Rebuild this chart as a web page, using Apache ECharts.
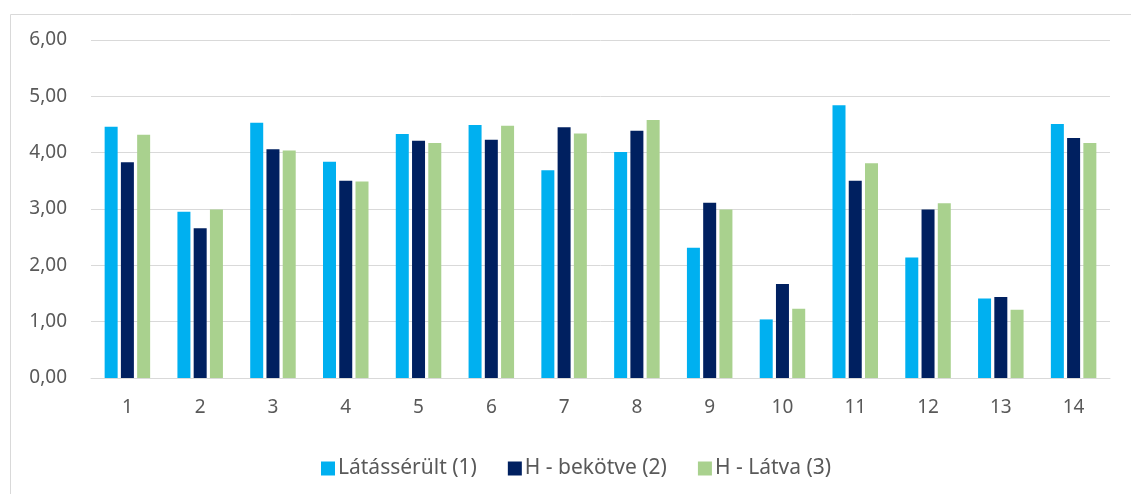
<!DOCTYPE html>
<html>
<head>
<meta charset="utf-8">
<script src="https://cdn.jsdelivr.net/npm/echarts@6/dist/echarts.min.js"></script>
<style>
  html, body { margin: 0; padding: 0; background: #fff; }
  #chart { width: 1131px; height: 494px; }
</style>
</head>
<body>
<div id="chart"></div>
<script>
// categories 1..14
const categories = ['1', '2', '3', '4', '5', '6', '7', '8', '9', '10', '11', '12', '13', '14'];

const seriesNames = ['Látássérült (1)', 'H - bekötve (2)', 'H - Látva (3)'];

// values
const latasserult = [4.46, 2.95, 4.53, 3.84, 4.33, 4.49, 3.69, 4.01, 2.31, 1.04, 4.84, 2.14, 1.41, 4.51];
const hBekotve    = [3.83, 2.66, 4.06, 3.50, 4.21, 4.23, 4.45, 4.39, 3.11, 1.67, 3.50, 2.99, 1.44, 4.26];
const hLatva      = [4.32, 2.99, 4.04, 3.49, 4.17, 4.48, 4.34, 4.58, 2.99, 1.23, 3.81, 3.10, 1.21, 4.17];

const yTicks = [0, 1, 2, 3, 4, 5, 6];

const colors = ['#00B0F0', '#002060', '#A9D18E'];
const fontFamily = '"Noto Sans", sans-serif';
const textColor = '#595959';

const chartDom = document.getElementById('chart');
const myChart = echarts.init(chartDom, null, { renderer: 'canvas' });

const allData = [latasserult, hBekotve, hLatva];

let option = {
  animation: false,
  color: colors,
  graphic: [
    {
      type: 'rect',
      left: 8,
      top: 12,
      shape: { width: 1200, height: 600 },
      style: { fill: 'none', stroke: '#D9D9D9', lineWidth: 1 },
      silent: true
    }
  ],
  grid: {
    left: 91,
    right: 21,
    top: 40,
    bottom: 116,
  },
  legend: {
    data: seriesNames,
    left: 316,
    top: 453,
    icon: 'rect',
    itemWidth: 14,
    itemHeight: 14,
    itemGap: 31,
    textStyle: {
      fontFamily: fontFamily,
      fontSize: 21,
      color: textColor,
      padding: [0, 0, 0, -2]
    }
  },
  xAxis: {
    type: 'category',
    data: categories,
    axisTick: { show: false },
    axisLine: { lineStyle: { color: '#D9D9D9', width: 1 } },
    axisLabel: {
      fontFamily: fontFamily,
      fontSize: 19,
      color: textColor,
      margin: 20
    }
  },
  yAxis: {
    type: 'value',
    min: yTicks[0],
    max: yTicks[yTicks.length - 1],
    interval: 1,
    axisLine: { show: false },
    axisTick: { show: false },
    splitLine: { lineStyle: { color: '#D9D9D9', width: 1 } },
    axisLabel: {
      fontFamily: fontFamily,
      fontSize: 19,
      color: textColor,
      margin: 24,
      formatter: v => v.toFixed(2).replace('.', ',')
    }
  },
  series: []
};

for (let i = 0; i < seriesNames.length; i++) {
  option.series[i] = {
    name: seriesNames[i],
    type: 'bar',
    data: allData[i],
    barWidth: 13,
    barGap: '25%',
    itemStyle: { color: colors[i] }
  };
}

option && myChart.setOption(option);
</script>
</body>
</html>
